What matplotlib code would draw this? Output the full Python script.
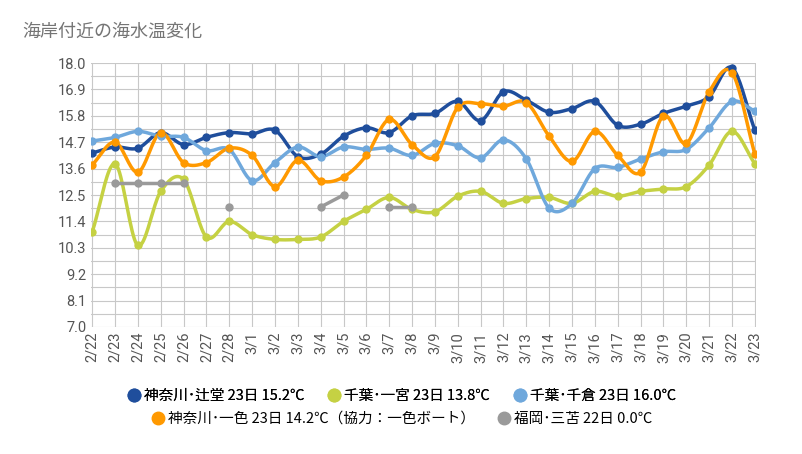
import numpy as np
import matplotlib
matplotlib.use("Agg")
import matplotlib.pyplot as plt
from matplotlib.lines import Line2D

plt.rcParams['font.family'] = ['Roboto', 'Noto Sans CJK JP']

dates = ["2/22","2/23","2/24","2/25","2/26","2/27","2/28","3/1","3/2","3/3","3/4","3/5","3/6","3/7","3/8",
         "3/9","3/10","3/11","3/12","3/13","3/14","3/15","3/16","3/17","3/18","3/19","3/20","3/21","3/22","3/23"]
tsujido = [14.25,14.5,14.45,15.1,14.6,14.9,15.1,15.05,15.2,14.1,14.2,14.95,15.3,15.1,15.8,
           15.9,16.4,15.6,16.8,16.45,15.95,16.1,16.4,15.4,15.45,15.9,16.2,16.6,17.8,15.2]
ichinomiya = [10.95,13.8,10.4,12.65,13.15,10.75,11.4,10.85,10.65,10.65,10.75,11.4,11.9,12.4,11.9,
              11.8,12.45,12.65,12.15,12.35,12.4,12.15,12.65,12.45,12.65,12.75,12.85,13.75,15.15,13.8]
chikura = [14.75,14.9,15.15,14.95,14.9,14.35,14.4,13.1,13.85,14.5,14.1,14.5,14.4,14.45,14.15,
           14.65,14.55,14.05,14.8,14.0,11.95,12.15,13.6,13.65,14.0,14.3,14.4,15.3,16.4,16.0]
isshiki = [13.75,14.7,13.45,15.1,13.85,13.85,14.45,14.15,12.85,13.95,13.1,13.25,14.15,15.65,14.6,
           14.1,16.15,16.3,16.2,16.35,14.95,13.9,15.15,14.15,13.45,15.8,14.65,16.8,17.6,14.2]
nan = np.nan
mikuriya = [nan,13.0,13.0,13.0,13.0,nan,12.0,nan,nan,nan,12.0,12.5,nan,12.0,12.0,
            nan,nan,nan,nan,nan,nan,nan,nan,nan,nan,nan,nan,nan,nan,nan]
yticks = [7.0,8.1,9.2,10.3,11.4,12.5,13.6,14.7,15.8,16.9,18.0]
title = "海岸付近の海水温変化"
labels = ["神奈川･辻堂 23日 15.2℃","千葉･一宮 23日 13.8℃","千葉･千倉 23日 16.0℃",
          "神奈川･一色 23日 14.2℃（協力：一色ボート）","福岡･三苫 22日 0.0℃"]
colors = ["#1f4e9c","#c5d143","#6fa8dc","#ff9900","#9a9a9a"]

def smooth(x, y, n=20):
    x = np.asarray(x, float); y = np.asarray(y, float)
    if len(x) < 3:
        return x, y
    P = np.column_stack([x, y])
    P = np.vstack([P[0] - (P[1]-P[0]), P, P[-1] + (P[-1]-P[-2])])
    xs, ys = [], []
    for i in range(1, len(P)-2):
        p0,p1,p2,p3 = P[i-1],P[i],P[i+1],P[i+2]
        t = np.linspace(0,1,n,endpoint=False)[:,None]
        m1 = (p2-p0)/2; m2 = (p3-p1)/2
        h00=2*t**3-3*t**2+1; h10=t**3-2*t**2+t; h01=-2*t**3+3*t**2; h11=t**3-t**2
        seg = h00*p1+h10*m1+h01*p2+h11*m2
        xs.append(seg[:,0]); ys.append(seg[:,1])
    xs.append([P[-2][0]]); ys.append([P[-2][1]])
    return np.concatenate(xs), np.concatenate(ys)

fig = plt.figure(figsize=(8.03,4.54), dpi=100)
ax = fig.add_axes([91/803, 1-327/454, (756-91)/803, (327-63)/454])
x = np.arange(len(dates))
series = [tsujido, ichinomiya, chikura, isshiki, mikuriya]
for vals, c in zip(series, colors):
    v = np.asarray(vals, float)
    ok = ~np.isnan(v)
    idx = np.where(ok)[0]
    runs = np.split(idx, np.where(np.diff(idx) != 1)[0]+1)
    for r in runs:
        if len(r) == 0: continue
        sx, sy = smooth(x[r], v[r])
        ax.plot(sx, sy, color=c, lw=2.5, zorder=3)
        ax.plot(x[r], v[r], 'o', color=c, ms=5, zorder=4)

ax.set_xlim(-0.05, len(dates)-0.95)
ax.set_ylim(7.0, 18.0)
ax.set_yticks(yticks)
ax.set_yticklabels([f"{t:.1f}" for t in yticks])
ax.set_yticks(np.arange(7.0, 18.01, 0.55), minor=True)
ax.set_xticks(x)
ax.set_xticklabels(dates, rotation=90)
ax.grid(True, which='both', color='#c8c8c8', lw=0.8)
ax.set_axisbelow(True)
ax.tick_params(colors='#555555', labelsize=10.5, length=0)
ax.tick_params(which='minor', length=0)
for s in ax.spines.values():
    s.set_visible(False)

fig.text(22/803, 1-32/454, title, fontsize=13, color='#757575', va='center', family='Noto Sans CJK JP')

handles = [Line2D([0],[0], marker='o', color=c, lw=0, ms=9) for c in colors]
lp = dict(frameon=False, handletextpad=0.2, columnspacing=1.5, handlelength=1,
          prop={'family': 'Noto Sans CJK JP', 'size': 10.5})
leg1 = fig.legend(handles[:3], labels[:3], ncol=3, loc='center', bbox_to_anchor=(0.5, 1-396/454), **lp)
leg2 = fig.legend(handles[3:], labels[3:], ncol=2, loc='center', bbox_to_anchor=(0.5, 1-419/454), **lp)
fig.add_artist(leg1)
fig.savefig("out.png", dpi=100, facecolor='white')
